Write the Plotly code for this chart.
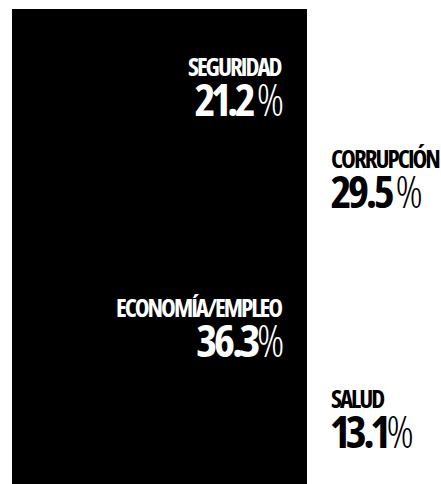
import plotly.graph_objects as go

# ---- data ----
columns = ["izquierda", "derecha"]
bottom_labels = ["ECONOMÍA/EMPLEO", "SALUD"]
bottom_values = [36.3, 13.1]
top_labels = ["SEGURIDAD", "CORRUPCIÓN"]
top_values = [21.2, 29.5]
number_texts_bottom = ["36.3%", "13.1%"]
number_texts_top = ["21.2 %", "29.5 %"]

# ---- layout / style constants ----
W, H = 441, 484
LEFT_PX = 12          # left edge of the mosaic
TOP_PX = 9            # top edge of the mosaic
LEFT_COL_PX = 295     # pixel width of the left column
col_colors = ["#000000", "#ffffff"]
text_colors = ["#ffffff", "#000000"]
FONT = "Open Sans, Roboto, sans-serif"
STRETCH = "font-stretch:75%"
NAME_SIZE = 25
NUM_SIZE = 45
LINE_FONT = 31        # controls gap between the two lines (1.3 em)
NAME_LS = -2.0
NUM_LS = -3.4
PAD_X = 24
# cap-top offset (px, downward) of the name relative to the segment centre
name_off = {"SEGURIDAD": -39, "ECONOMÍA/EMPLEO": -35,
            "CORRUPCIÓN": -23.5, "SALUD": -21}
ASC_GAP = 0.355       # em between glyph box top and cap top (Open Sans)

totals = [b + t for b, t in zip(bottom_values, top_values)]
edges = [0]
for t in totals:
    edges.append(edges[-1] + t)
centers = [(edges[i] + edges[i + 1]) / 2 for i in range(len(totals))]
k = LEFT_COL_PX / totals[0]  # px per unit on x
plot_h = H - TOP_PX

fig = go.Figure()
fig.add_trace(go.Bar(x=centers, y=bottom_values, width=totals,
                     marker=dict(color=col_colors, line=dict(width=0)),
                     hoverinfo="skip", showlegend=False))
fig.add_trace(go.Bar(x=centers, y=top_values, width=totals,
                     marker=dict(color=col_colors, line=dict(width=0)),
                     hoverinfo="skip", showlegend=False))


def label_html(name, num):
    name_part = (f'<span style="{STRETCH};letter-spacing:{NAME_LS}px;'
                 f'font-size:{NAME_SIZE}px;font-weight:700">{name}</span>')
    body, pct = (num[:-1], "%") if num.endswith("%") else (num, "")
    num_part = (f'<span style="{STRETCH};letter-spacing:{NUM_LS}px;'
                f'font-variant-numeric:proportional-nums;'
                f'font-size:{NUM_SIZE}px;font-weight:700">{body}</span>')
    if pct:
        num_part += (f'<span style="{STRETCH};letter-spacing:{NUM_LS}px;'
                     f'font-size:{NUM_SIZE}px;font-weight:300">%</span>')
    return name_part + "<br>" + num_part


annotations = []
for i in range(len(columns)):
    segs = [
        (top_labels[i], number_texts_top[i],
         (bottom_values[i] + top_values[i] / 2) / totals[i]),
        (bottom_labels[i], number_texts_bottom[i],
         (bottom_values[i] / 2) / totals[i]),
    ]
    for name, num, yc in segs:
        if i == 0:
            xpos, xanchor, xshift, align = edges[i + 1], "right", -PAD_X, "right"
        else:
            xpos, xanchor, xshift, align = edges[i], "left", PAD_X, "left"
        box_off = name_off[name] - ASC_GAP * NAME_SIZE
        annotations.append(dict(
            x=xpos, y=yc, xref="x", yref="y",
            xanchor=xanchor, yanchor="top", align=align,
            xshift=xshift, yshift=-box_off,
            text=label_html(name, num), showarrow=False,
            borderwidth=0, borderpad=0,
            font=dict(family=FONT, size=LINE_FONT, color=text_colors[i]),
        ))

fig.update_layout(
    width=W, height=H,
    margin=dict(l=0, r=0, t=0, b=0),
    paper_bgcolor="white", plot_bgcolor="white",
    barmode="stack", barnorm="fraction", bargap=0,
    xaxis=dict(range=[-LEFT_PX / k, (W - LEFT_PX) / k], visible=False, fixedrange=True),
    yaxis=dict(range=[0, H / plot_h], visible=False, fixedrange=True),
    annotations=annotations,
)

fig.write_html("out.html", config=dict(displayModeBar=False))
